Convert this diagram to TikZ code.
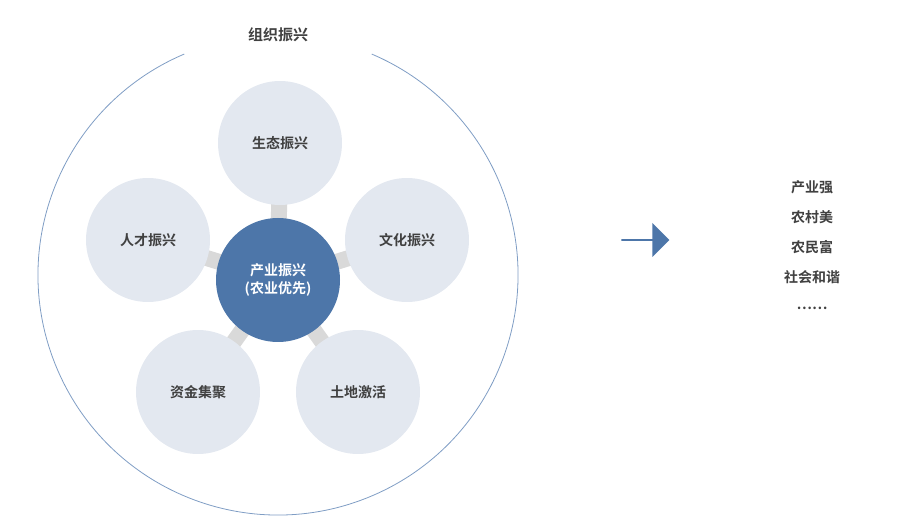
\documentclass[tikz,border=0pt]{standalone}
\usepackage{fontspec}
\usetikzlibrary{shapes.arrows,backgrounds}
\setmainfont{Noto Sans CJK SC}[BoldFont={Noto Sans CJK SC Bold}]
\definecolor{lightc}{HTML}{E3E8F0}
\definecolor{darkc}{HTML}{4D76A9}
\definecolor{barc}{HTML}{D9D9D9}
\definecolor{ringc}{HTML}{7F9DC4}
\definecolor{txtc}{HTML}{404040}
\begin{document}
\begin{tikzpicture}[x=1pt,y=1pt,
  outer/.style={circle,fill=lightc,minimum size=124pt,inner sep=0pt,text=txtc,font=\fontsize{14}{16}\selectfont\bfseries},
  core/.style={circle,fill=darkc,minimum size=124pt,inner sep=0pt,text=white,align=center,font=\fontsize{14}{18}\selectfont\bfseries},
  bar/.style={draw=barc,line width=16pt},
  lab/.style={text=txtc,font=\fontsize{14}{16}\selectfont\bfseries}]
\useasboundingbox (0,0) rectangle (900,520);
\coordinate (c) at (278,245);
\draw[ringc,line width=0.8pt] ([shift={(113:240)}]c) arc (113:427:240);
\node[lab,font=\fontsize{15}{17}\selectfont\bfseries] (title) at (278,485) {组织振兴};
\node[core] (m) at (278,240) {产业振兴\\(农业优先)};
\node[outer] (a) at (280,377) {生态振兴};
\node[outer] (b) at (407,280) {文化振兴};
\node[outer] (d) at (358,128) {土地激活};
\node[outer] (e) at (198,128) {资金集聚};
\node[outer] (f) at (148,280) {人才振兴};
\begin{scope}[on background layer]
\foreach \n in {a,b,d,e,f} \draw[bar] (m.center) -- (\n.center);
\end{scope}
\node[single arrow,fill=darkc,minimum height=48pt,minimum width=34pt,single arrow head extend=4pt,inner sep=0pt] (arr) at (645,280) {};
\node[lab] (l1) at (812,333) {产业强};
\node[lab] (l2) at (812,303) {农村美};
\node[lab] (l3) at (812,273) {农民富};
\node[lab] (l4) at (812,243) {社会和谐};
\node[lab] (l5) at (812,212) {……};
\end{tikzpicture}
\end{document}
